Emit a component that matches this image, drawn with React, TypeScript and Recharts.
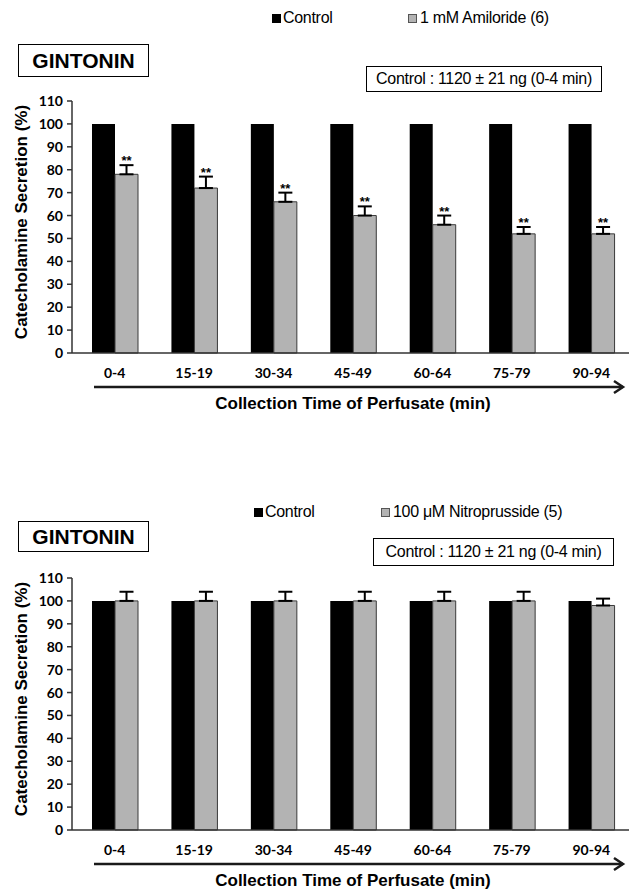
import React from "react";
import {
  BarChart,
  Bar,
  XAxis,
  YAxis,
  ErrorBar,
  LabelList,
  Label,
} from "recharts";

const periods = ["0-4", "15-19", "30-34", "45-49", "60-64", "75-79", "90-94"];
const controlValues = [100, 100, 100, 100, 100, 100, 100];
const amilorideValues = [78, 72, 66, 60, 56, 52, 52];
const amilorideErrors = [4, 5, 4, 4, 4, 3, 3];
const amilorideMarks = ["**", "**", "**", "**", "**", "**", "**"];
const nitroValues = [100, 100, 100, 100, 100, 100, 98];
const nitroErrors = [4, 4, 4, 4, 4, 4, 3];
const yTicks = [0, 10, 20, 30, 40, 50, 60, 70, 80, 90, 100, 110];

const TICK_FONT = "Lato, 'Open Sans', sans-serif";
const ARIAL = "'Liberation Sans', Arial, sans-serif";

const buildData = (values: number[], errors: number[], marks?: string[]) =>
  periods.map((p, i) => ({
    period: p,
    control: controlValues[i],
    treated: values[i],
    err: [0, errors[i]],
    mark: marks ? marks[i] : "",
  }));

const topData = buildData(amilorideValues, amilorideErrors, amilorideMarks);
const bottomData = buildData(nitroValues, nitroErrors);

// asterisks sit just above the error cap
const renderMarks = (values: number[], errors: number[]) => (props: any) => {
  const { x, y, width, height, value, index } = props;
  if (!value) return null;
  const top = y - (errors[index] * height) / values[index];
  return (
    <text
      x={x + width / 2}
      y={top}
      textAnchor="middle"
      fontSize={13}
      fontWeight="bold"
      fontFamily={ARIAL}
      fill="#000"
    >
      {value}
    </text>
  );
};

const XTitle = (props: any) => {
  const { viewBox } = props;
  const ay = viewBox.y + 34;
  const x0 = 94;
  const x1 = 623;
  return (
    <g>
      <line x1={x0} y1={ay} x2={x1} y2={ay} stroke="#1a1a1a" strokeWidth={2.5} />
      <polyline
        points={`${x1 - 9},${ay - 6} ${x1},${ay} ${x1 - 9},${ay + 6}`}
        fill="none"
        stroke="#1a1a1a"
        strokeWidth={2.5}
      />
      <text
        x={353}
        y={ay + 22}
        textAnchor="middle"
        fontSize={17}
        fontWeight="bold"
        fontFamily={ARIAL}
        fill="#000"
      >
        Collection Time of Perfusate (min)
      </text>
    </g>
  );
};

const YTitle = (props: any) => {
  const { viewBox } = props;
  const cx = 21;
  const cy = viewBox.y + viewBox.height / 2 - 5;
  return (
    <text
      x={cx}
      y={cy}
      transform={`rotate(-90, ${cx}, ${cy})`}
      textAnchor="middle"
      dominantBaseline="central"
      fontSize={17}
      fontWeight="bold"
      fontFamily={ARIAL}
      fill="#000"
    >
      Catecholamine Secretion (%)
    </text>
  );
};

interface PanelProps {
  data: any[];
  values: number[];
  errors: number[];
  withMarks: boolean;
}

const Panel: React.FC<PanelProps> = ({ data, values, errors, withMarks }) => (
  <BarChart
    width={631}
    height={412}
    data={data}
    margin={{ top: 101, right: 0, left: 0, bottom: 0 }}
    barGap={0}
    barSize={23}
  >
    <XAxis
      dataKey="period"
      height={59}
      padding={{ left: 3, right: 0 }}
      tickLine={false}
      tickMargin={9}
      axisLine={{ stroke: "#333", strokeWidth: 1.5 }}
      tick={{ fill: "#000", fontSize: 14, fontWeight: 700, fontFamily: TICK_FONT }}
      interval={0}
    >
      <Label content={<XTitle />} />
    </XAxis>
    <YAxis
      width={72}
      domain={[0, 110]}
      ticks={yTicks}
      interval={0}
      tickSize={5}
      tickMargin={4}
      axisLine={{ stroke: "#333", strokeWidth: 1.5 }}
      tickLine={{ stroke: "#333", strokeWidth: 1.5 }}
      tick={{ fill: "#000", fontSize: 14, fontWeight: 700, fontFamily: TICK_FONT }}
    >
      <Label content={<YTitle />} />
    </YAxis>
    <Bar dataKey="control" fill="#000" isAnimationActive={false} />
    <Bar
      dataKey="treated"
      fill="#b3b3b3"
      stroke="#3a3a3a"
      strokeWidth={1}
      isAnimationActive={false}
    >
      <ErrorBar
        dataKey="err"
        direction="y"
        width={7}
        strokeWidth={2}
        stroke="#000"
        isAnimationActive={false}
      />
      {withMarks && <LabelList dataKey="mark" content={renderMarks(values, errors)} />}
    </Bar>
  </BarChart>
);

const LegendRow: React.FC<{ top: number; blackLeft: number; greyLeft: number; label: string }> = ({
  top,
  blackLeft,
  greyLeft,
  label,
}) => (
  <>
    <div style={{ position: "absolute", top, left: blackLeft, display: "flex", alignItems: "center", fontFamily: ARIAL, fontSize: 16, lineHeight: "18px", letterSpacing: -0.3 }}>
      <span style={{ width: 9, height: 9, background: "#000", marginRight: 2, display: "inline-block" }} />
      Control
    </div>
    <div style={{ position: "absolute", top, left: greyLeft, display: "flex", alignItems: "center", fontFamily: ARIAL, fontSize: 16, lineHeight: "18px", letterSpacing: -0.3 }}>
      <span style={{ width: 7, height: 7, background: "#b3b3b3", border: "1px solid #555", marginRight: 3, display: "inline-block" }} />
      {label}
    </div>
  </>
);

const BoxText: React.FC<{ top: number; left: number; width: number; height: number; bold?: boolean; size: number; text: string }> = ({
  top,
  left,
  width,
  height,
  bold,
  size,
  text,
}) => (
  <div
    style={{
      position: "absolute",
      top,
      left,
      width,
      height,
      boxSizing: "border-box",
      border: "1.5px solid #000",
      display: "flex",
      alignItems: "center",
      justifyContent: "center",
      fontFamily: ARIAL,
      fontSize: size,
      fontWeight: bold ? "bold" : "normal",
      whiteSpace: "nowrap",
      letterSpacing: bold ? 0 : -0.3,
    }}
  >
    {text}
  </div>
);

export default function App() {
  return (
    <div style={{ position: "absolute", left: 0, top: 0, width: 629, height: 889, overflow: "hidden", background: "#fff" }}>
      <div style={{ position: "absolute", left: 0, top: 0 }}>
        <Panel data={topData} values={amilorideValues} errors={amilorideErrors} withMarks />
      </div>
      <div style={{ position: "absolute", left: 0, top: 477 }}>
        <Panel data={bottomData} values={nitroValues} errors={nitroErrors} withMarks={false} />
      </div>

      <LegendRow top={9} blackLeft={272} greyLeft={408} label="1 mM Amiloride (6)" />
      <BoxText top={44} left={18} width={131} height={33} bold size={21} text="GINTONIN" />
      <BoxText top={66} left={366} width={236} height={26} size={16} text="Control : 1120 ± 21 ng (0-4 min)" />

      <LegendRow top={503} blackLeft={254} greyLeft={381} label="100 μM Nitroprusside (5)" />
      <BoxText top={521} left={18} width={131} height={31} bold size={21} text="GINTONIN" />
      <BoxText top={538} left={373} width={241} height={28} size={16} text="Control : 1120 ± 21 ng (0-4 min)" />
    </div>
  );
}
